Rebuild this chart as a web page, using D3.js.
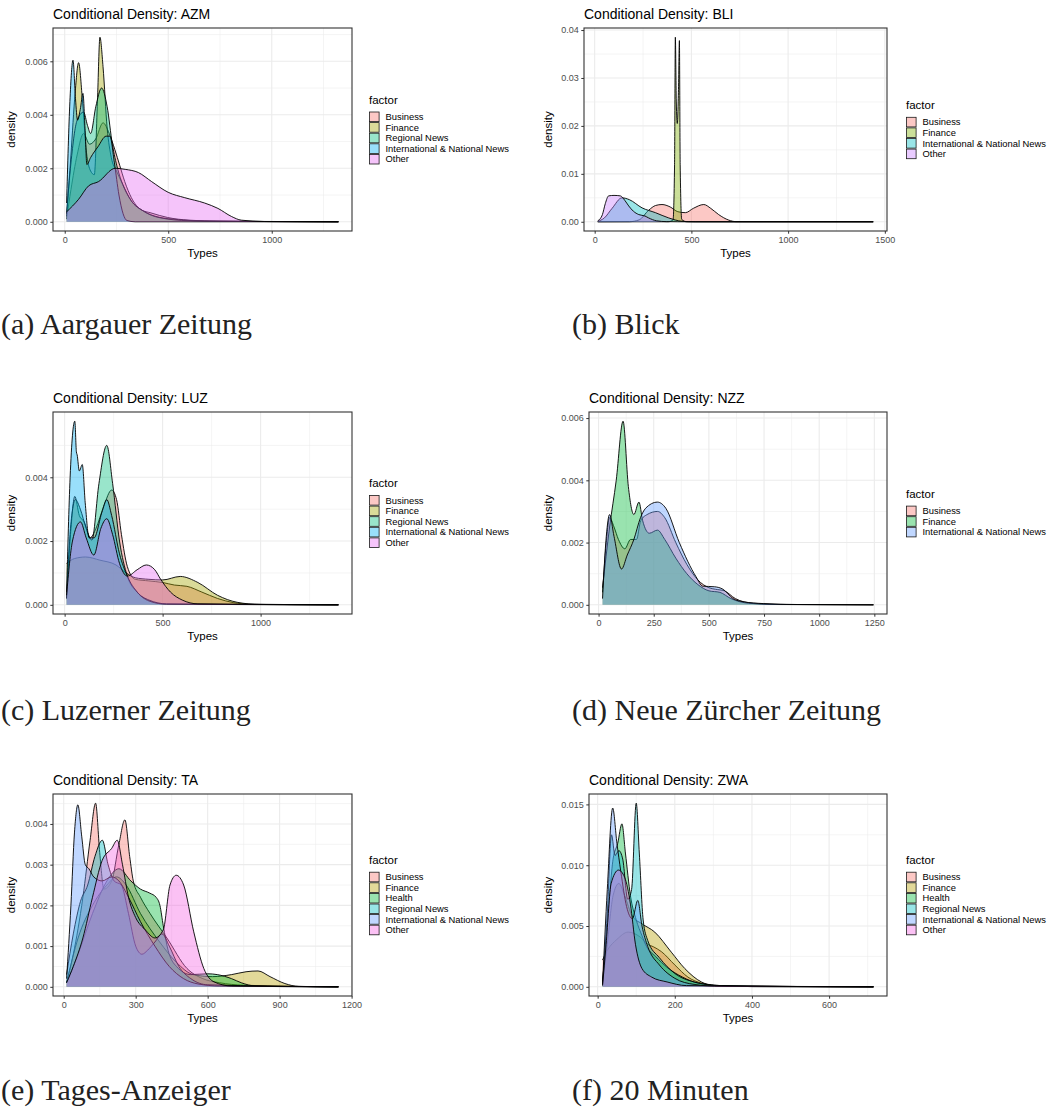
<!DOCTYPE html>
<html>
<head>
<meta charset="utf-8">
<script src="https://cdn.jsdelivr.net/npm/d3@7"></script>
<style>
  body { margin: 0; background: #fff; }
  svg { display: block; }
</style>
</head>
<body>
<svg id="chart" width="1060" height="1109"></svg>
<script>
// ---- data: [Types, density] ----
const azmBusiness = [[9,0.0001],[30,0.0012],[60,0.0025],[91,0.0033],[120,0.0029],[150,0.0031],[185,0.0037],[215,0.0033],[242,0.0027],[266,0.0021],[290,0.0015],[322,0.0009],[369,0.00045],[417,0.00033],[497,0.00016],[600,0.00006],[750,0.00002],[1322,0]];
const azmFinance = [[9,0.0002],[30,0.0025],[50,0.0048],[67,0.00595],[85,0.0046],[105,0.0026],[125,0.0019],[143,0.00176],[158,0.0045],[170,0.0069],[185,0.0058],[205,0.0035],[225,0.0024],[250,0.0019],[280,0.0014],[320,0.0008],[380,0.0004],[450,0.00018],[550,0.00008],[700,0.00002],[1322,0]];
const azmRegional = [[9,0.0003],[30,0.0022],[60,0.0038],[91,0.0041],[110,0.0036],[125,0.0033],[150,0.0043],[178,0.005],[205,0.0043],[230,0.0029],[255,0.002],[280,0.0014],[320,0.0008],[380,0.0004],[460,0.00015],[600,0.00004],[1322,0]];
const azmInternational = [[9,0.0007],[25,0.0045],[40,0.00604],[52,0.0046],[62,0.0038],[75,0.0042],[88,0.0048],[98,0.0035],[107,0.00214],[125,0.0024],[160,0.0028],[200,0.0032],[218,0.0032],[240,0.0022],[262,0.001],[282,0.0003],[300,0.00005],[340,0],[1322,0]];
const azmOther = [[9,0.00037],[67,0.00084],[115,0.00134],[163,0.0015],[244,0.002],[292,0.00196],[356,0.00184],[420,0.0015],[500,0.0011],[580,0.0009],[676,0.0007],[740,0.0005],[805,0.0002],[853,0.00006],[965,0.00001],[1322,0]];

const bliBusiness = [[16,0],[180,0.00002],[230,0.0004],[279,0.0024],[315,0.0034],[348,0.0036],[390,0.0031],[430,0.0021],[469,0.0019],[510,0.0028],[564,0.0036],[600,0.0028],[641,0.0015],[693,0.00035],[730,0.00003],[1440,0]];
const bliFinance = [[16,0],[380,0],[405,0.0004],[413,0.012],[417,0.0385],[422,0.025],[427,0.0205],[433,0.027],[438,0.0378],[442,0.012],[450,0.0005],[475,0],[1440,0]];
const bliInternational = [[16,0.0001],[50,0.0008],[90,0.0028],[141,0.005],[180,0.0046],[245,0.0029],[314,0.0019],[383,0.0008],[452,0.0001],[520,0],[1440,0]];
const bliOther = [[16,0.0002],[40,0.0015],[55,0.0038],[72,0.0054],[100,0.0055],[133,0.0054],[155,0.0045],[176,0.0033],[200,0.0022],[228,0.0015],[260,0.0012],[279,0.0008],[320,0.0002],[370,0.00003],[430,0],[1440,0]];

const luzBusiness = [[10,0.0002],[30,0.0022],[52,0.0034],[75,0.0028],[100,0.0026],[130,0.0021],[160,0.0024],[200,0.0031],[240,0.0036],[265,0.0033],[290,0.0022],[320,0.0012],[360,0.0008],[430,0.00075],[500,0.0007],[560,0.00062],[624,0.00058],[700,0.0004],[780,0.0002],[860,0.00007],[950,0.00002],[1397,0]];
const luzFinance = [[10,0.0013],[50,0.00145],[107,0.0015],[180,0.0014],[262,0.00125],[314,0.001],[360,0.00085],[430,0.0008],[500,0.00078],[590,0.00089],[680,0.0007],[780,0.0003],[880,0.00008],[1000,0.00001],[1397,0]];
const luzRegional = [[10,0.0002],[30,0.0024],[55,0.0033],[80,0.003],[110,0.0024],[139,0.00203],[175,0.0038],[215,0.005],[245,0.0038],[280,0.002],[320,0.0009],[370,0.0004],[430,0.00015],[520,0.00003],[1397,0]];
const luzInternational = [[10,0.0004],[28,0.004],[52,0.00576],[60,0.0048],[64,0.0047],[75,0.0042],[90,0.0044],[105,0.0032],[125,0.0021],[150,0.0021],[190,0.0029],[215,0.0033],[240,0.0028],[280,0.0016],[320,0.0009],[370,0.0004],[440,0.0001],[520,0.00002],[1397,0]];
const luzOther = [[10,0.0003],[40,0.002],[81,0.0026],[110,0.0021],[149,0.00156],[185,0.0024],[215,0.0027],[245,0.0022],[280,0.0013],[320,0.0009],[370,0.0011],[417,0.00125],[460,0.0011],[490,0.0008],[540,0.0004],[600,0.00015],[680,0.00003],[1397,0]];

const nzzBusiness = [[18,0.0004],[35,0.002],[50,0.0028],[70,0.0025],[90,0.0021],[119,0.0018],[145,0.0021],[172,0.0021],[191,0.0027],[220,0.0029],[267,0.003],[300,0.0028],[350,0.002],[400,0.0013],[450,0.0008],[500,0.00055],[530,0.0005],[570,0.00045],[620,0.0002],[700,0.00005],[850,0.00001],[1246,0]];
const nzzFinance = [[18,0.00055],[50,0.0025],[80,0.004],[111,0.0059],[135,0.0038],[160,0.0029],[183,0.0033],[200,0.0027],[230,0.0023],[267,0.0024],[300,0.0021],[350,0.0015],[400,0.001],[450,0.00065],[500,0.00045],[550,0.0004],[600,0.0002],[680,0.00005],[800,0.00001],[1246,0]];
const nzzInternational = [[18,0.0002],[35,0.0022],[50,0.0029],[70,0.0022],[104,0.00115],[130,0.0016],[160,0.0021],[190,0.0028],[213,0.0031],[267,0.0033],[305,0.0031],[366,0.002],[442,0.0009],[472,0.0006],[526,0.00058],[564,0.0005],[610,0.0002],[655,0.0001],[747,0.00004],[900,0.00001],[1246,0]];

const taBusiness = [[12,0.0001],[40,0.0008],[80,0.0022],[110,0.0036],[133,0.00451],[150,0.0033],[168,0.0024],[200,0.0026],[230,0.0035],[255,0.0041],[275,0.0032],[290,0.0026],[320,0.0022],[360,0.0018],[430,0.0012],[514,0.00045],[580,0.0002],[650,0.0001],[750,0.00004],[1145,0]];
const taFinance = [[12,0.0001],[60,0.0012],[120,0.002],[180,0.0025],[220,0.0027],[260,0.0025],[320,0.0018],[400,0.0011],[470,0.0006],[540,0.0003],[620,0.00025],[700,0.0003],[760,0.00037],[810,0.00039],[860,0.00025],[922,0.00008],[980,0.00001],[1145,0]];
const taHealth = [[12,0.0001],[60,0.0008],[120,0.0018],[180,0.0026],[230,0.0029],[280,0.0026],[320,0.0024],[359,0.0023],[385,0.0022],[401,0.002],[415,0.0015],[435,0.0009],[470,0.0005],[530,0.0003],[600,0.00032],[640,0.0003],[700,0.0002],[740,0.0001],[800,0.00002],[1145,0]];
const taRegional = [[12,0.0003],[40,0.0013],[70,0.0021],[100,0.0025],[130,0.0032],[161,0.0036],[185,0.003],[210,0.0026],[240,0.0025],[270,0.0018],[300,0.001],[326,0.0008],[350,0.0009],[380,0.0011],[410,0.0013],[440,0.001],[480,0.0005],[530,0.0002],[600,0.00005],[1145,0]];
const taInternational = [[12,0.0002],[30,0.002],[45,0.0038],[59,0.00447],[75,0.0037],[90,0.003],[105,0.0029],[125,0.0027],[160,0.0026],[200,0.0027],[230,0.0026],[270,0.0022],[320,0.0016],[380,0.001],[440,0.0005],[500,0.0002],[560,0.00007],[650,0.00002],[1145,0]];
const taOther = [[12,0.0001],[40,0.0005],[80,0.0012],[120,0.0022],[160,0.0031],[200,0.0034],[223,0.0036],[245,0.003],[270,0.0022],[300,0.0017],[340,0.0014],[380,0.0012],[415,0.0014],[443,0.0025],[469,0.00274],[500,0.0025],[542,0.00135],[584,0.00045],[627,0.00012],[700,0.00002],[1145,0]];

const zwaBusiness = [[12.7,0.0022],[25,0.003],[50,0.0039],[79,0.0045],[110,0.0041],[130,0.0035],[144,0.0033],[165,0.0029],[200,0.0018],[234,0.0008],[270,0.0003],[320,0.0001],[400,0.00002],[715,0]];
const zwaFinance = [[12.7,0.0002],[25,0.0035],[40,0.0075],[55,0.0085],[70,0.0075],[90,0.0058],[114,0.0052],[148,0.0045],[191,0.00285],[226,0.0015],[269,0.0004],[303,0.0001],[400,0.00002],[715,0]];
const zwaHealth = [[12.7,0.0004],[25,0.005],[40,0.0105],[52,0.0118],[63,0.0134],[72,0.011],[85,0.0075],[100,0.0055],[115,0.0042],[127,0.0033],[150,0.0025],[180,0.0016],[220,0.0008],[260,0.0003],[320,0.00008],[715,0]];
const zwaRegional = [[12.7,0.0003],[25,0.006],[36,0.0125],[45,0.0108],[55,0.0112],[65,0.0105],[78,0.0072],[88,0.008],[100,0.0151],[108,0.011],[118,0.0055],[130,0.0038],[160,0.0024],[200,0.0011],[250,0.0004],[320,0.0001],[715,0]];
const zwaInternational = [[12.7,0.0002],[25,0.008],[39,0.0147],[50,0.0118],[60,0.0095],[75,0.0066],[90,0.0056],[104,0.0071],[115,0.005],[130,0.0033],[160,0.0018],[200,0.0007],[250,0.0002],[320,0.00003],[715,0]];
const zwaOther = [[12.7,0.0001],[22,0.0035],[35,0.0085],[54,0.0096],[70,0.009],[85,0.0068],[98,0.0035],[115,0.0015],[140,0.0008],[180,0.0004],[230,0.0001],[715,0]];

// categories / labels
const cat5 = ["Business", "Finance", "Regional News", "International & National News", "Other"];
const cat4 = ["Business", "Finance", "International & National News", "Other"];
const cat3 = ["Business", "Finance", "International & National News"];
const cat6 = ["Business", "Finance", "Health", "Regional News", "International & National News", "Other"];

const outlets = ["AZM", "BLI", "LUZ", "NZZ", "TA", "ZWA"];
const captions = ["(a) Aargauer Zeitung", "(b) Blick", "(c) Luzerner Zeitung", "(d) Neue Zürcher Zeitung", "(e) Tages-Anzeiger", "(f) 20 Minuten"];

const xTicksAZM = [0, 500, 1000], yTicksAZM = [0, 0.002, 0.004, 0.006];
const xTicksBLI = [0, 500, 1000, 1500], yTicksBLI = [0, 0.01, 0.02, 0.03, 0.04];
const xTicksLUZ = [0, 500, 1000], yTicksLUZ = [0, 0.002, 0.004];
const xTicksNZZ = [0, 250, 500, 750, 1000, 1250], yTicksNZZ = [0, 0.002, 0.004, 0.006];
const xTicksTA = [0, 300, 600, 900, 1200], yTicksTA = [0, 0.001, 0.002, 0.003, 0.004];
const xTicksZWA = [0, 200, 400, 600], yTicksZWA = [0, 0.005, 0.01, 0.015];

// ggplot hue palettes
const pal3 = ["#F8766D", "#00BA38", "#619CFF"];
const pal4 = ["#F8766D", "#7CAE00", "#00BFC4", "#C77CFF"];
const pal5 = ["#F8766D", "#A3A500", "#00BF7D", "#00B0F6", "#E76BF3"];
const pal6 = ["#F8766D", "#B79F00", "#00BA38", "#00BFC4", "#619CFF", "#F564E3"];

const panels = [
  { code: outlets[0], cats: cat5, pal: pal5, series: [azmBusiness, azmFinance, azmRegional, azmInternational, azmOther],
    xt: xTicksAZM, yt: yTicksAZM, fmt: ".3f", L: 53, R: 352, T: 28, B: 231, col: 0, caption: captions[0], capY: 334 },
  { code: outlets[1], cats: cat4, pal: pal4, series: [bliBusiness, bliFinance, bliInternational, bliOther],
    xt: xTicksBLI, yt: yTicksBLI, fmt: ".2f", L: 584, R: 887, T: 28, B: 231, col: 1, caption: captions[1], capY: 334 },
  { code: outlets[2], cats: cat5, pal: pal5, series: [luzBusiness, luzFinance, luzRegional, luzInternational, luzOther],
    xt: xTicksLUZ, yt: yTicksLUZ, fmt: ".3f", L: 53, R: 352, T: 412, B: 614, col: 0, caption: captions[2], capY: 720 },
  { code: outlets[3], cats: cat3, pal: pal3, series: [nzzBusiness, nzzFinance, nzzInternational],
    xt: xTicksNZZ, yt: yTicksNZZ, fmt: ".3f", L: 589, R: 887, T: 412, B: 614, col: 1, caption: captions[3], capY: 720 },
  { code: outlets[4], cats: cat6, pal: pal6, series: [taBusiness, taFinance, taHealth, taRegional, taInternational, taOther],
    xt: xTicksTA, yt: yTicksTA, fmt: ".3f", L: 53, R: 352, T: 794, B: 996, col: 0, caption: captions[4], capY: 1100 },
  { code: outlets[5], cats: cat6, pal: pal6, series: [zwaBusiness, zwaFinance, zwaHealth, zwaRegional, zwaInternational, zwaOther],
    xt: xTicksZWA, yt: yTicksZWA, fmt: ".3f", L: 589, R: 887, T: 794, B: 996, col: 1, caption: captions[5], capY: 1100 }
];

const svg = d3.select("#chart");
const sans = "'Liberation Sans', Arial, Helvetica, sans-serif";

// minor breaks halfway between the majors, kept inside the domain
function minorBreaks(ticks, domain) {
  const step = ticks[1] - ticks[0];
  const out = [];
  for (let i = -1; i < ticks.length; i++) {
    const v = ticks[0] + (i + 0.5) * step;
    if (v >= domain[0] && v <= domain[1]) out.push(v);
  }
  return out;
}

function drawPanel(p, idx) {
  const allPts = p.series.flat();
  const xExt = d3.extent(allPts, d => d[0]);
  const yMax = d3.max(allPts, d => d[1]);
  const xPad = (xExt[1] - xExt[0]) * 0.05;
  const x = d3.scaleLinear().domain([xExt[0] - xPad, xExt[1] + xPad]).range([p.L, p.R]);
  const y = d3.scaleLinear().domain([-yMax * 0.05, yMax * 1.05]).range([p.B, p.T]);
  const inX = v => v >= x.domain()[0] && v <= x.domain()[1];
  const inY = v => v >= y.domain()[0] && v <= y.domain()[1];

  const g = svg.append("g");

  // grid
  const grid = g.append("g");
  minorBreaks(p.xt, x.domain()).forEach(v => {
    grid.append("line").attr("x1", x(v)).attr("x2", x(v)).attr("y1", p.T).attr("y2", p.B)
      .attr("stroke", "#EBEBEB").attr("stroke-width", 0.55);
  });
  minorBreaks(p.yt, y.domain()).forEach(v => {
    grid.append("line").attr("y1", y(v)).attr("y2", y(v)).attr("x1", p.L).attr("x2", p.R)
      .attr("stroke", "#EBEBEB").attr("stroke-width", 0.55);
  });
  p.xt.filter(inX).forEach(v => {
    grid.append("line").attr("x1", x(v)).attr("x2", x(v)).attr("y1", p.T).attr("y2", p.B)
      .attr("stroke", "#EBEBEB").attr("stroke-width", 1.1);
  });
  p.yt.filter(inY).forEach(v => {
    grid.append("line").attr("y1", y(v)).attr("y2", y(v)).attr("x1", p.L).attr("x2", p.R)
      .attr("stroke", "#EBEBEB").attr("stroke-width", 1.1);
  });

  // densities, drawn in factor order
  const clipId = "clip" + idx;
  g.append("clipPath").attr("id", clipId).append("rect")
    .attr("x", p.L).attr("y", p.T).attr("width", p.R - p.L).attr("height", p.B - p.T);
  const area = d3.area().x(d => x(d[0])).y0(y(0)).y1(d => y(d[1])).curve(d3.curveMonotoneX);
  const line = d3.line().x(d => x(d[0])).y(d => y(d[1])).curve(d3.curveMonotoneX);
  const dens = g.append("g").attr("clip-path", `url(#${clipId})`);
  p.series.forEach((s, i) => {
    dens.append("path").attr("d", area(s)).attr("fill", p.pal[i]).attr("fill-opacity", 0.4);
    dens.append("path").attr("d", line(s)).attr("fill", "none").attr("stroke", "#000").attr("stroke-width", 0.9);
  });

  // border
  g.append("rect").attr("x", p.L).attr("y", p.T).attr("width", p.R - p.L).attr("height", p.B - p.T)
    .attr("fill", "none").attr("stroke", "#333333").attr("stroke-width", 1.1);

  // axes
  const xAxis = d3.axisBottom(x).tickValues(p.xt.filter(inX))
    .tickSize(2.7).tickPadding(2.5).tickFormat(d3.format("d"));
  const yAxis = d3.axisLeft(y).tickValues(p.yt.filter(inY)).tickSize(2.7).tickPadding(2.5).tickFormat(d3.format(p.fmt));
  [g.append("g").attr("transform", `translate(0,${p.B})`).call(xAxis),
   g.append("g").attr("transform", `translate(${p.L},0)`).call(yAxis)].forEach(ax => {
    ax.select(".domain").remove();
    ax.selectAll(".tick line").attr("stroke", "#333333").attr("stroke-width", 1);
    ax.selectAll(".tick text").attr("fill", "#4D4D4D").style("font-family", sans).style("font-size", "9px");
  });

  // titles
  g.append("text").attr("x", p.L).attr("y", p.T - 9).text("Conditional Density: " + p.code)
    .style("font-family", sans).style("font-size", "14px").attr("fill", "#000");
  g.append("text").attr("x", (p.L + p.R) / 2).attr("y", p.B + 26).attr("text-anchor", "middle").text("Types")
    .style("font-family", sans).style("font-size", "11.5px").attr("fill", "#000");
  const yLabX = p.col === 0 ? 15 : 552;
  g.append("text").attr("transform", `translate(${yLabX},${(p.T + p.B) / 2}) rotate(-90)`)
    .attr("text-anchor", "middle").text("density")
    .style("font-family", sans).style("font-size", "11.5px").attr("fill", "#000");

  // legend, centred on the panel
  const keyH = 10.6;
  const legX = p.R + (p.col === 0 ? 17 : 19);
  const legH = 17 + p.cats.length * keyH;
  const legTop = (p.T + p.B) / 2 - legH / 2;
  const leg = g.append("g");
  leg.append("text").attr("x", legX).attr("y", legTop + 9).text("factor")
    .style("font-family", sans).style("font-size", "11.5px").attr("fill", "#000");
  p.cats.forEach((c, i) => {
    const ky = legTop + 17 + i * keyH;
    leg.append("rect").attr("x", legX + 0.5).attr("y", ky + 0.5).attr("width", keyH - 1).attr("height", keyH - 1)
      .attr("fill", d3.color(p.pal[i]).copy({ opacity: 0.4 })).attr("stroke", "#1a1a1a").attr("stroke-width", 0.8);
    leg.append("text").attr("x", legX + 16.5).attr("y", ky + keyH / 2).attr("dy", "0.35em").text(c)
      .style("font-family", sans).style("font-size", "9.4px").attr("fill", "#000");
  });

  // sub-figure caption
  g.append("text").attr("x", p.col === 0 ? 1 : 572).attr("y", p.capY).text(p.caption)
    .style("font-family", "'Liberation Serif', 'Times New Roman', serif").style("font-size", "30px").attr("fill", "#222");
}

panels.forEach(drawPanel);
</script>
</body>
</html>
